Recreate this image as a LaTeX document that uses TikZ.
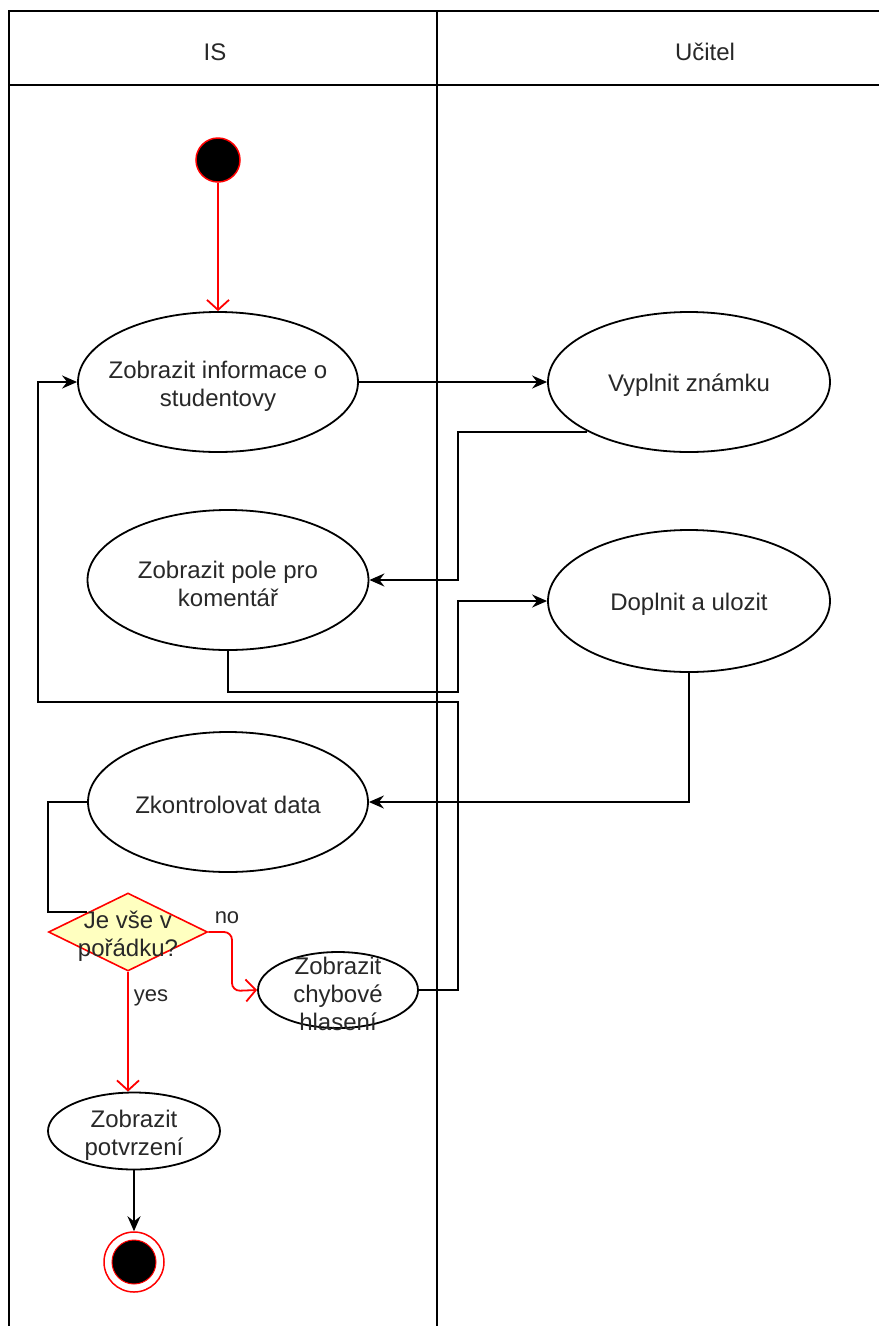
\documentclass[tikz,border=0pt]{standalone}
\usepackage{fontspec}
\setmainfont{Liberation Sans}
\usetikzlibrary{shapes.geometric,arrows.meta}

\definecolor{ink}{RGB}{40,40,40}
\definecolor{flowred}{RGB}{255,0,0}
\definecolor{decfill}{RGB}{255,255,192}

\begin{document}
\begin{tikzpicture}[x=1pt,y=-1pt,
  txt/.style={font=\fontsize{24}{28}\selectfont, text=ink, align=center, inner sep=0pt},
  act/.style={ellipse, draw=black, line width=1.8pt, fill=white, inner sep=0pt},
  lane/.style={draw=black, line width=2pt},
  conn/.style={draw=black, line width=2pt},
  tip/.style={-{Stealth[length=15pt,width=13pt,inset=5pt]}},
  redflow/.style={draw=flowred, line width=1.8pt, -{Straight Barb[length=10pt,width=22pt]}},
]
\useasboundingbox (0,0) rectangle (879,1326);

% swimlane frame
\draw[lane] (879,11) -- (9,11) -- (9,1326);
\draw[lane] (9,85) -- (879,85);
\draw[lane] (437,11) -- (437,1326);
\node[txt] (hIS) at (215,52) {IS};
\node[txt] (hUc) at (705,52) {Učitel};

% initial node
\node[circle, fill=black, draw=flowred, line width=1.5pt, minimum size=44pt, inner sep=0pt] (start) at (218,160) {};

% activities
\node[act, minimum width=280pt, minimum height=140pt] (info) at (218,382) {};
\node[txt] (infoT) at (218,386) {Zobrazit informace o\\studentovy};
\node[act, minimum width=282pt, minimum height=140pt] (vyp) at (689,382) {};
\node[txt] (vypT) at (689,385) {Vyplnit známku};
\node[act, minimum width=281pt, minimum height=140pt] (pole) at (228,580) {};
\node[txt] (poleT) at (228,584) {Zobrazit pole pro\\komentář};
\node[act, minimum width=282pt, minimum height=142pt] (dopl) at (689,601) {};
\node[txt] (doplT) at (689,604) {Doplnit a ulozit};
\node[act, minimum width=280pt, minimum height=140pt] (kontr) at (228,802) {};
\node[txt] (kontrT) at (228,805) {Zkontrolovat data};

% decision
\node[diamond, draw=flowred, fill=decfill, line width=1.6pt, inner sep=0pt,
      minimum width=159pt, minimum height=78pt] (dec) at (128,932) {};
\node[txt] (decT) at (128,936) {Je vše v\\pořádku?};

\node[act, minimum width=160pt, minimum height=76pt] (chyb) at (338,990) {};
\node[txt] (chybT) at (338,994) {Zobrazit\\chybové\\hlasení};

\node[act, minimum width=172pt, minimum height=77pt] (potv) at (134,1131) {};
\node[txt] (potvT) at (134,1135) {Zobrazit\\potvrzení};

% final node
\node[circle, draw=flowred, line width=1.5pt, fill=white, minimum size=60pt, inner sep=0pt] (final) at (134,1262) {};
\node[circle, fill=black, draw=flowred, line width=1pt, minimum size=44pt, inner sep=0pt] (finalin) at (final.center) {};

% red control flows
\draw[redflow] (start.south) -- (info.north);
\draw[redflow] (dec.south) -- (dec.south |- potv.north);
\draw[redflow, rounded corners=8pt] (dec.east) -- (232,932) -- (232,991) -- (chyb.west);
\node[txt, font=\fontsize{22}{24}\selectfont] (noL) at (227,918) {no};
\node[txt, font=\fontsize{22}{24}\selectfont] (yesL) at (151,998) {yes};

% black control flows
\draw[conn, tip] (info.east) -- (vyp.west);
\coordinate (vypOut) at (587,432);
\draw[conn, tip] (vypOut) -- (458,432) -- (458,580) -- (pole.east);
\draw[conn, tip] (pole.south) -- (228,692) -- (458,692) -- (458,601) -- (dopl.west);
\draw[conn, tip] (dopl.south) -- (689,802) -- (kontr.east);
\coordinate (decIn) at (87,912);
\draw[conn] (kontr.west) -- (48,802) -- (48,912) -- (decIn);
\draw[conn, tip] (chyb.east) -- (458,990) -- (458,702) -- (38,702) -- (38,382) -- (info.west);
\draw[conn, tip] (potv.south) -- (final.north);
\end{tikzpicture}
\end{document}
